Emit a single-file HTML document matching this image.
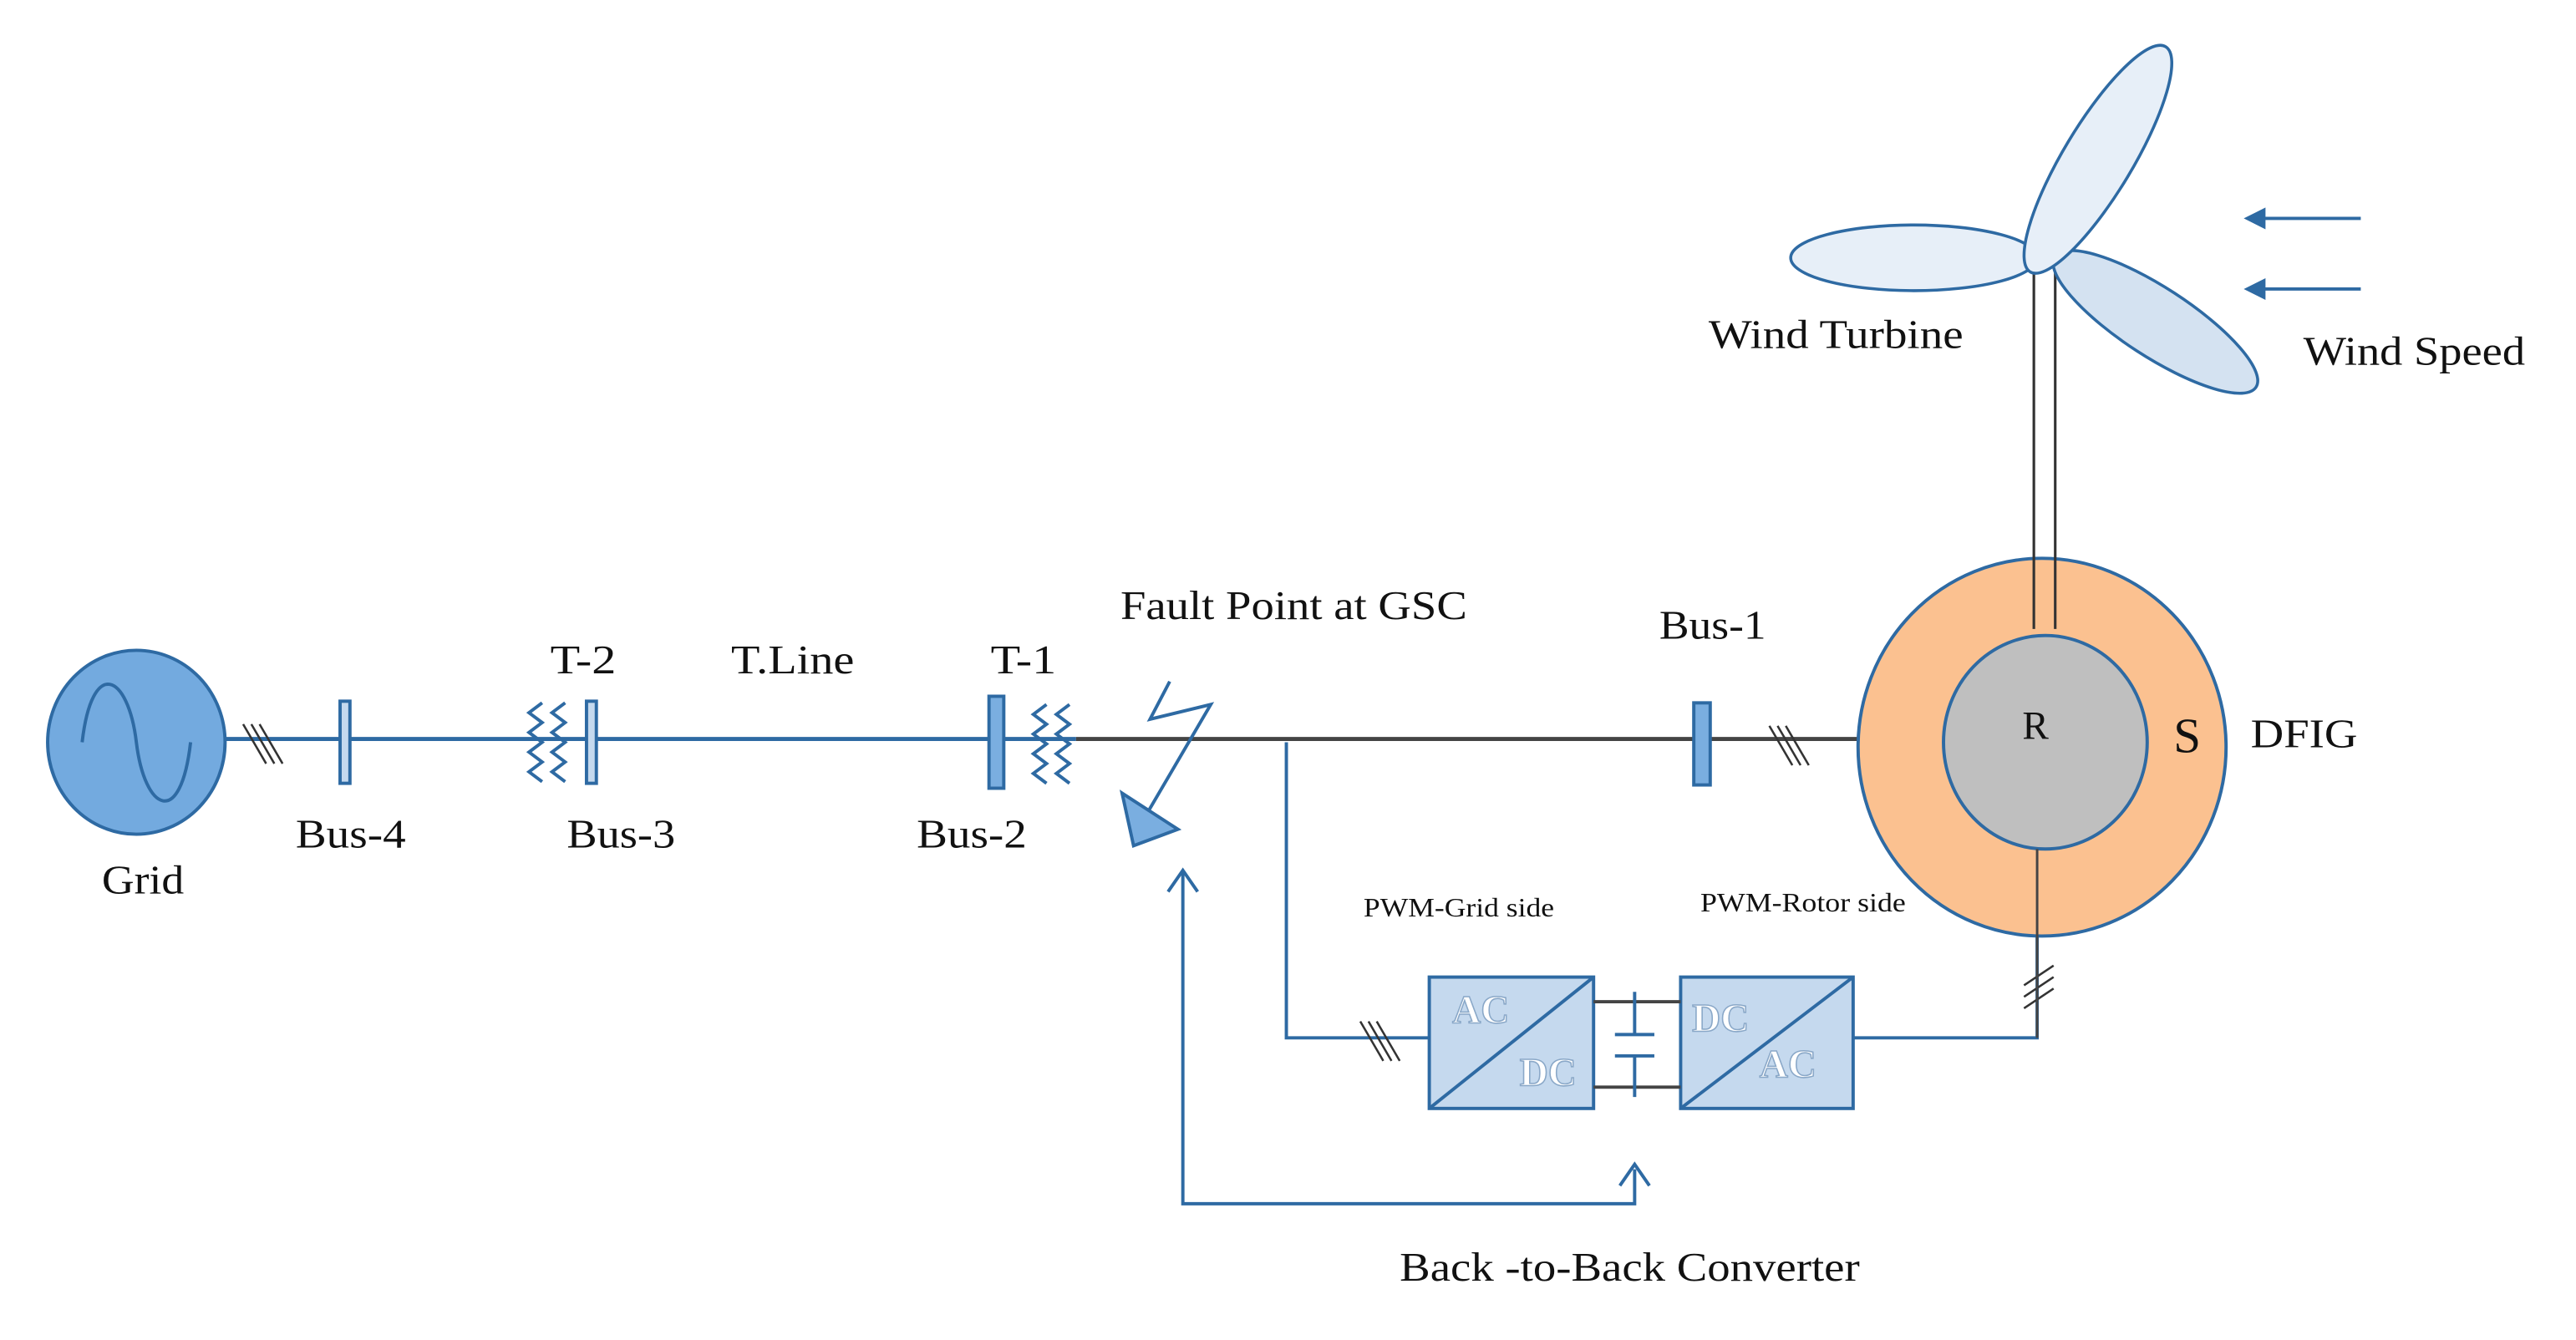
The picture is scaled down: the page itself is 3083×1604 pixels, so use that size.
<!DOCTYPE html>
<html><head><meta charset="utf-8"><style>
html,body{margin:0;padding:0;background:#fff;}
svg{display:block;}
text{font-family:"Liberation Serif",serif;fill:#111;}
</style></head><body>
<svg width="3083" height="1604" viewBox="0 0 1568 816" preserveAspectRatio="none" xmlns="http://www.w3.org/2000/svg">
<g stroke="#2e6aa3" stroke-width="2" fill="none">
<ellipse cx="83" cy="452" rx="54" ry="56" fill="#73aadf"/>
<path d="M50 452 C 56 400, 78 410, 83 452 S 110 505, 116 452" stroke-width="2"/>
<line x1="137" y1="450" x2="655" y2="450" stroke-width="2.5"/>
<path d="M148 441 L162 465 M153 441 L167 465 M158 441 L172 465" stroke="#333" stroke-width="1.3"/>
<rect x="207" y="427" width="6" height="50" fill="#c5d9ee"/>
<path d="M330 428 l-8 6 l8 6 l-8 6 l8 6 l-8 6 l8 6 l-8 6 l8 6"/>
<path d="M344 428 l-8 6 l8 6 l-8 6 l8 6 l-8 6 l8 6 l-8 6 l8 6"/>
<rect x="357" y="427" width="6" height="50" fill="#c5d9ee"/>
<rect x="602" y="424" width="9" height="56" fill="#7aaee0"/>
<path d="M637 429 l-8 6 l8 6 l-8 6 l8 6 l-8 6 l8 6 l-8 6 l8 6"/>
<path d="M651 429 l-8 6 l8 6 l-8 6 l8 6 l-8 6 l8 6 l-8 6 l8 6"/>
</g>
<line x1="655" y1="450" x2="1132" y2="450" stroke="#444" stroke-width="2.5"/>
<g stroke="#2e6aa3" stroke-width="2" fill="none">
<polyline points="712,415 700,438 737,429 699,494"/>
<polygon points="683,483 717,505 690,515" fill="#7aaee0"/>
<polyline points="995,712 995,733 720,733 720,530"/>
<polyline points="711,543 720,530 729,543"/>
<polyline points="986,722 995,709 1004,722"/>
<polyline points="783,452 783,632 870,632"/>
<path d="M828 622 L842 646 M833 622 L847 646 M838 622 L852 646" stroke="#333" stroke-width="1.3"/>
<rect x="1031" y="428" width="10" height="50" fill="#7aaee0"/>
<rect x="870" y="595" width="100" height="80" fill="#c5d9ee"/>
<line x1="870" y1="675" x2="970" y2="595"/>
<rect x="1023" y="595" width="105" height="80" fill="#c5d9ee"/>
<line x1="1023" y1="675" x2="1128" y2="595"/>
<polyline points="1128,632 1240,632 1240,520"/>
</g>
<path d="M1077 442 L1091 466 M1082 442 L1096 466 M1087 442 L1101 466" stroke="#333" stroke-width="1.3"/>
<path d="M1232 600 L1250 588 M1232 607 L1250 595 M1232 614 L1250 602" stroke="#333" stroke-width="1.3"/>
<g stroke="#444" stroke-width="2">
<line x1="970" y1="610" x2="1023" y2="610"/>
<line x1="970" y1="662" x2="1023" y2="662"/>
</g>
<g stroke="#2e6aa3" stroke-width="2">
<line x1="995" y1="604" x2="995" y2="630"/>
<line x1="995" y1="643" x2="995" y2="668"/>
<line x1="983" y1="630" x2="1007" y2="630"/>
<line x1="983" y1="643" x2="1007" y2="643"/>
</g>
<g font-size="24" font-weight="bold" stroke="#8aa8c8" stroke-width="0.8">
<text x="884" y="623" style="fill:#fff">AC</text>
<text x="925" y="661" style="fill:#fff">DC</text>
<text x="1030" y="628" style="fill:#fff">DC</text>
<text x="1071" y="656" style="fill:#fff">AC</text>
</g>
<ellipse cx="1243" cy="455" rx="112" ry="115" fill="#fbc190" stroke="#2e6aa3" stroke-width="2"/>
<ellipse cx="1245" cy="452" rx="62" ry="65" fill="#bfbfbf" stroke="#2e6aa3" stroke-width="2"/>
<line x1="1240" y1="517" x2="1240" y2="632" stroke="#444" stroke-width="1.5"/>
<line x1="1238" y1="166" x2="1238" y2="383" stroke="#333" stroke-width="1.6"/>
<line x1="1251" y1="166" x2="1251" y2="383" stroke="#333" stroke-width="1.6"/>
<g stroke="#2e6aa3" stroke-width="1.8">
<ellipse cx="1165" cy="157" rx="75" ry="20" fill="#e7eff8"/>
<ellipse cx="1312" cy="196" rx="73" ry="21" fill="#d4e2f1" transform="rotate(33 1312 196)"/>
<ellipse cx="1277" cy="97" rx="80" ry="21" fill="#e7eff8" transform="rotate(-59 1277 97)"/>
</g>
<g stroke="#2e6aa3" stroke-width="2" fill="#2e6aa3">
<line x1="1437" y1="133" x2="1375" y2="133"/>
<polygon points="1368,133 1378,128 1378,138"/>
<line x1="1437" y1="176" x2="1375" y2="176"/>
<polygon points="1368,176 1378,171 1378,181"/>
</g>
<g font-size="25" lengthAdjust="spacingAndGlyphs">
<text x="1040" y="212" textLength="155" lengthAdjust="spacingAndGlyphs">Wind Turbine</text>
<text x="1402" y="222" textLength="135" lengthAdjust="spacingAndGlyphs">Wind Speed</text>
<text x="682" y="377" textLength="211" lengthAdjust="spacingAndGlyphs">Fault Point at GSC</text>
<text x="1010" y="389" textLength="65" lengthAdjust="spacingAndGlyphs">Bus-1</text>
<text x="335" y="410" textLength="40" lengthAdjust="spacingAndGlyphs">T-2</text>
<text x="445" y="410" textLength="75" lengthAdjust="spacingAndGlyphs">T.Line</text>
<text x="603" y="410" textLength="40" lengthAdjust="spacingAndGlyphs">T-1</text>
<text x="180" y="516" textLength="67" lengthAdjust="spacingAndGlyphs">Bus-4</text>
<text x="345" y="516" textLength="66" lengthAdjust="spacingAndGlyphs">Bus-3</text>
<text x="558" y="516" textLength="67" lengthAdjust="spacingAndGlyphs">Bus-2</text>
<text x="62" y="544" textLength="50" lengthAdjust="spacingAndGlyphs">Grid</text>
<text x="1370" y="455" textLength="65" lengthAdjust="spacingAndGlyphs">DFIG</text>
<text x="1231" y="450" font-size="24">R</text>
<text x="1323" y="458" font-size="30">S</text>
<text x="852" y="780" textLength="280" lengthAdjust="spacingAndGlyphs">Back -to-Back Converter</text>
</g>
<g font-size="16">
<text x="830" y="558" textLength="116" lengthAdjust="spacingAndGlyphs">PWM-Grid side</text>
<text x="1035" y="555" textLength="125" lengthAdjust="spacingAndGlyphs">PWM-Rotor side</text>
</g>
</svg>
</body></html>
